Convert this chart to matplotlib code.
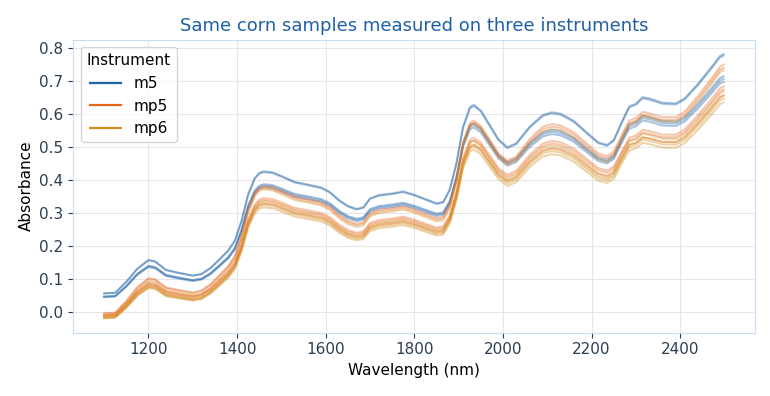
import matplotlib
matplotlib.use("Agg")
import matplotlib.pyplot as plt
from matplotlib.lines import Line2D
import numpy as np

# wavelength knots (nm)
wavelength = [1100, 1125, 1150, 1175, 1200, 1215, 1240, 1270, 1300, 1320,
              1340, 1360, 1380, 1395, 1410, 1425, 1440, 1450, 1460, 1480, 1500,
              1530, 1560, 1590, 1610, 1630, 1650, 1670, 1685, 1700, 1720,
              1750, 1775, 1800, 1825, 1850, 1865, 1880, 1895, 1910, 1925,
              1930, 1935, 1950, 1970, 1990, 2010, 2030, 2060, 2090, 2110, 2130,
              2160, 2190, 2215, 2235, 2250, 2270, 2285, 2300, 2315, 2330,
              2360, 2390, 2410, 2440, 2470, 2490, 2498]

# reference spectrum per instrument (top sample)
m5_ref = [0.055, 0.057, 0.090, 0.130, 0.156, 0.152, 0.126, 0.117, 0.109, 0.114,
          0.132, 0.158, 0.185, 0.215, 0.275, 0.355, 0.405, 0.420, 0.425, 0.422, 0.411,
          0.393, 0.385, 0.376, 0.362, 0.338, 0.320, 0.311, 0.316, 0.343, 0.353,
          0.358, 0.364, 0.354, 0.341, 0.328, 0.332, 0.370, 0.450, 0.560, 0.618,
          0.624, 0.626, 0.610, 0.566, 0.522, 0.498, 0.510, 0.560, 0.596, 0.604, 0.600,
          0.578, 0.542, 0.513, 0.505, 0.520, 0.580, 0.622, 0.630, 0.650, 0.646,
          0.633, 0.631, 0.646, 0.690, 0.740, 0.775, 0.780]
mp5_ref = [-0.005, -0.003, 0.032, 0.074, 0.101, 0.098, 0.073, 0.065, 0.058, 0.064,
           0.083, 0.110, 0.138, 0.168, 0.228, 0.309, 0.359, 0.375, 0.380, 0.377, 0.366,
           0.348, 0.340, 0.331, 0.317, 0.293, 0.275, 0.266, 0.271, 0.298, 0.308,
           0.313, 0.319, 0.309, 0.296, 0.283, 0.287, 0.324, 0.403, 0.512, 0.570,
           0.576, 0.578, 0.563, 0.521, 0.479, 0.457, 0.470, 0.522, 0.560, 0.568, 0.564,
           0.543, 0.508, 0.479, 0.471, 0.484, 0.540, 0.579, 0.586, 0.605, 0.601,
           0.589, 0.589, 0.606, 0.653, 0.705, 0.742, 0.748]
mp6_ref = [-0.012, -0.010, 0.024, 0.065, 0.092, 0.089, 0.064, 0.056, 0.049, 0.054,
           0.073, 0.100, 0.128, 0.158, 0.218, 0.299, 0.349, 0.365, 0.370, 0.367, 0.356,
           0.338, 0.330, 0.321, 0.307, 0.283, 0.265, 0.256, 0.261, 0.288, 0.298,
           0.303, 0.309, 0.299, 0.286, 0.273, 0.276, 0.314, 0.393, 0.503, 0.561,
           0.567, 0.569, 0.553, 0.510, 0.467, 0.444, 0.457, 0.508, 0.545, 0.553, 0.549,
           0.527, 0.491, 0.462, 0.454, 0.468, 0.526, 0.566, 0.573, 0.592, 0.588,
           0.576, 0.575, 0.591, 0.637, 0.688, 0.725, 0.731]

# per sample: scale and shift against the instrument reference
m5_scales = [1.0, 0.994, 0.92, 0.91, 0.90]
m5_shifts = [0.0, 0.0, -0.005, -0.005, -0.006]
mp5_scales = [1.0, 0.99, 0.92, 0.91, 0.89]
mp5_shifts = [0.0, -0.002, -0.006, -0.008, -0.010]
mp6_scales = [1.0, 0.92, 0.905, 0.895, 0.88]
mp6_shifts = [0.0, -0.006, -0.008, -0.009, -0.010]

instruments = ["m5", "mp5", "mp6"]
colors = ["#1f63a8", "#e8651f", "#d48c1c"]

fig, ax = plt.subplots(figsize=(7.7, 3.96), dpi=100)

wl = np.array(wavelength)
groups = [(m5_ref, m5_scales, m5_shifts),
          (mp5_ref, mp5_scales, mp5_shifts),
          (mp6_ref, mp6_scales, mp6_shifts)]
for (ref, scales, shifts), c in zip(groups, colors):
    for s, b in zip(scales, shifts):
        ax.plot(wl, np.array(ref) * s + b, color=c, alpha=0.38, lw=1.4)

ax.set_title("Same corn samples measured on three instruments",
             color="#1f5fa6", fontsize=13)
ax.set_xlabel("Wavelength (nm)", fontsize=11)
ax.set_ylabel("Absorbance", fontsize=11)
ax.set_ylim(-0.064, 0.824)
ax.set_yticks(np.arange(0, 0.81, 0.1))
ax.grid(True, color="#e6e6e6", lw=0.8)
ax.set_axisbelow(True)
for sp in ax.spines.values():
    sp.set_color("#c9def2")
ax.tick_params(colors="#2d3e50", labelsize=11)

handles = [Line2D([0], [0], color=c, lw=1.6) for c in colors]
ax.legend(handles, instruments, title="Instrument", loc="upper left",
          fontsize=11, title_fontsize=11)

fig.subplots_adjust(left=0.095, right=0.98, top=0.9, bottom=0.16)
fig.savefig("out.png")
